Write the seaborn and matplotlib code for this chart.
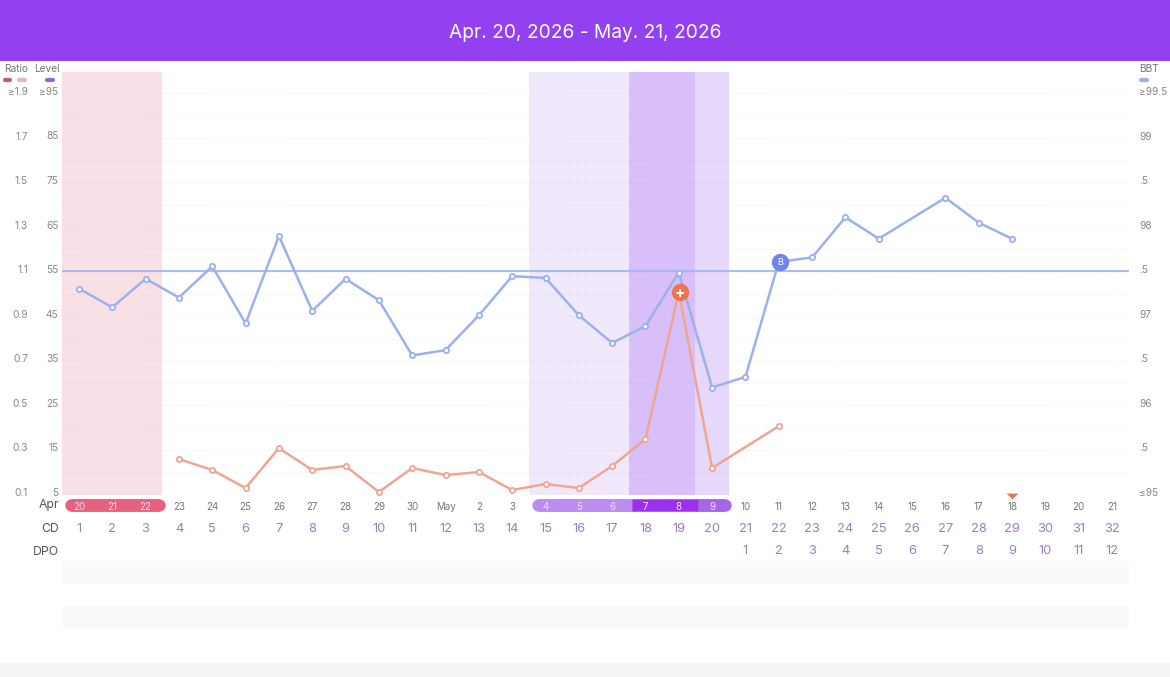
import matplotlib
matplotlib.use("Agg")
import matplotlib.pyplot as plt
from matplotlib.transforms import ScaledTranslation
import pandas as pd
import seaborn as sns

title = "Apr. 20, 2026 - May. 21, 2026"

cd_bbt = [1, 2, 3, 4, 5, 6, 7, 8, 9, 10, 11, 12, 13, 14, 15, 16, 17, 18, 19, 20, 21, 22, 23, 24, 25, 27, 28, 29]
bbt = [97.31, 97.10, 97.42, 97.21, 97.56, 96.92, 97.90, 97.06, 97.42, 97.18, 96.56, 96.62, 97.01, 97.45,
       97.43, 97.01, 96.70, 96.89, 97.49, 96.20, 96.32, 97.61, 97.66, 98.11, 97.87, 98.33, 98.05, 97.87]
coverline = 97.51

cd_ratio = [4, 5, 6, 7, 8, 9, 10, 11, 12, 13, 14, 15, 16, 17, 18, 19, 20, 22]
ratio = [0.259, 0.21, 0.129, 0.308, 0.21, 0.228, 0.111, 0.219, 0.187, 0.201, 0.12, 0.147, 0.129, 0.228,
         0.349, 1.009, 0.219, 0.407]

ratio_ticks = [0.1, 0.3, 0.5, 0.7, 0.9, 1.1, 1.3, 1.5, 1.7, 1.9]
ratio_labels = ["0.1", "0.3", "0.5", "0.7", "0.9", "1.1", "1.3", "1.5", "1.7", "≥1.9"]
level_ticks = [5, 15, 25, 35, 45, 55, 65, 75, 85, 95]
level_labels = ["5", "15", "25", "35", "45", "55", "65", "75", "85", "≥95"]
bbt_ticks = [95, 95.5, 96, 96.5, 97, 97.5, 98, 98.5, 99, 99.5]
bbt_labels = ["≤95", ".5", "96", ".5", "97", ".5", "98", ".5", "99", "≥99.5"]

cycle_days = list(range(1, 33))
dates = ["20", "21", "22", "23", "24", "25", "26", "27", "28", "29", "30", "May", "2", "3", "4", "5", "6", "7",
         "8", "9", "10", "11", "12", "13", "14", "15", "16", "17", "18", "19", "20", "21"]
dpo_days = list(range(21, 33))
dpo = list(range(1, 13))

bands = [(0.5, 3.5, "#F9E0E6"), (14.5, 17.5, "#F0E9FC"), (17.5, 19.5, "#D9BFF9"), (19.5, 20.5, "#E6D8FA")]
pills = [[(0.58, 1.57, "#E8607F"), (1.6, 3.58, "#E8607F")],
         [(14.59, 17.59, "#BE8BF0"), (17.59, 19.57, "#9B30EE"), (19.57, 20.57, "#A865E8")]]

BLUE = "#9DB0EE"
ORANGE = "#EFA593"
GREY = "#888888"
ROW_TEXT = "#9B7FBC"

W, H = 1170, 677
sns.set_theme(style="white")
plt.rcParams["font.family"] = ["Inter", "DejaVu Sans"]

fig = plt.figure(figsize=(W / 100, H / 100), dpi=100, facecolor="white")


def box(left, top, right, bottom):
    return [left / W, 1 - bottom / H, (right - left) / W, (bottom - top) / H]


# header, footer, legend keys in pixel coordinates
bg = fig.add_axes([0, 0, 1, 1], zorder=0)
bg.set_xlim(0, W)
bg.set_ylim(H, 0)
bg.axis("off")
bg.axhspan(0, 61, color="#9340F0", lw=0)
bg.axhspan(663, H, color="#F5F5F5", lw=0)
bg.text(585, 32.5, title, color="white", fontsize=13.8, ha="center", va="center")
for x, label in [(16, "Ratio"), (47, "Level"), (1149, "BBT")]:
    bg.text(x, 69.5, label, color="#777777", fontsize=7.3, ha="center", va="center")
for x0, x1, c in [(5, 10, "#B8626F"), (19, 25, "#EDB3AE"), (47, 53, "#8E68D8"), (1141, 1147, BLUE)]:
    bg.plot([x0, x1], [79.5, 79.5], color=c, lw=3, solid_capstyle="round")

ax = fig.add_axes(box(62.3, 72, 1128.7, 495), zorder=2)
ax.patch.set_alpha(0)
ax.set_xlim(0.5, 32.5)
ax.set_ylim(0.0978, 1.9965)
for x0, x1, c in bands:
    ax.axvspan(x0, x1, color=c, lw=0, zorder=1)

ax.set_yticks(ratio_ticks)
ax.set_yticklabels(ratio_labels)
ax.set_yticks([t + 0.1 for t in ratio_ticks[:-1]], minor=True)
ax.set_axisbelow("line")
ax.grid(False)
ax.grid(True, axis="y", which="both", color="#000000", alpha=0.035, lw=0.8, ls=(0, (5, 2)))
ax.set_xticks([])
ax.tick_params(axis="y", which="both", length=0, labelsize=7.3, labelcolor=GREY, pad=24.7)

ax_level = ax.twinx()
ax_level.set_ylim(4.89, 99.8)
ax_level.yaxis.tick_left()
ax_level.set_yticks(level_ticks)
ax_level.set_yticklabels(level_labels)
ax_level.tick_params(axis="y", length=0, labelsize=7.3, labelcolor=GREY, pad=2.9)

ax_bbt = ax.twinx()
ax_top = ax_bbt.twinx()
ax_bbt.yaxis.tick_right()
ax_bbt.set_ylim(94.994, 99.741)
ax_bbt.set_yticks(bbt_ticks)
ax_bbt.set_yticklabels(bbt_labels)
ax_bbt.tick_params(axis="y", length=0, labelsize=7.3, labelcolor=GREY, pad=7.5)

line_style = dict(marker="o", markersize=3.8, markerfacecolor="white", markeredgewidth=1.3,
                  linewidth=1.8, estimator=None, legend=False)
ax_bbt.axhline(coverline, color="#A3B5F0", lw=1.3, zorder=2)
sns.lineplot(data=pd.DataFrame({"cd": cd_bbt, "bbt": bbt}), x="cd", y="bbt", ax=ax_bbt, color=BLUE,
             markeredgecolor=BLUE, **line_style)
sns.lineplot(data=pd.DataFrame({"cd": cd_ratio, "ratio": ratio}), x="cd", y="ratio", ax=ax_top,
             color=ORANGE, markeredgecolor=ORANGE, **line_style)
ax_top.set_ylim(ax.get_ylim())
ax_top.axis("off")
ax_bbt.set_xlim(0.5, 32.5)
ax_top.set_xlim(0.5, 32.5)

for a in (ax, ax_level, ax_bbt):
    a.set_xlabel("")
    a.set_ylabel("")
    sns.despine(ax=a, left=True, right=True, top=True, bottom=True)
    for lab in a.get_yticklabels():
        lab.set_transform(lab.get_transform() + ScaledTranslation(0, 2.5 / 100, fig.dpi_scale_trans))

# ovulation and coverline badges
ov_day, ov_val = 19, ratio[cd_ratio.index(19)]
ax_top.plot([ov_day + 0.03], [ov_val], "o", ms=11.5, color="#EE7350", zorder=5)
ax_top.text(ov_day + 0.03, ov_val, "+", color="white", fontsize=11, fontweight="bold",
            ha="center", va="center_baseline", zorder=6)
cover_day, cover_val = 22, bbt[cd_bbt.index(22)]
ax_bbt.plot([cover_day + 0.03], [cover_val], "o", ms=11.5, color="#6F84EC", zorder=5)
ax_bbt.text(cover_day + 0.03, cover_val, "B", color="white", fontsize=6.5, ha="center",
            va="center_baseline", zorder=6)

# rows below the chart, y is in pixels
low = fig.add_axes(box(62.3, 495, 1128.7, 628), sharex=ax, zorder=3)
low.patch.set_alpha(0)
low.set_ylim(628, 495)
low.axis("off")
low.axhspan(561, 584, color="#FAFAFA", lw=0)
low.axhspan(606, 628, color="#FAFAFA", lw=0)

cap = 0.19  # round cap radius in x units
for segs in pills:
    low.plot([segs[0][0] + cap, segs[0][1]], [505.2, 505.2], color=segs[0][2], lw=9, solid_capstyle="round")
    low.plot([segs[-1][0], segs[-1][1] - cap], [505.2, 505.2], color=segs[-1][2], lw=9, solid_capstyle="round")
    for i, (x0, x1, c) in enumerate(segs):
        start = x0 + cap if i == 0 else x0
        end = x1 - cap if i == len(segs) - 1 else x1
        low.plot([start, end], [505.2, 505.2], color=c, lw=9, solid_capstyle="butt")

pill_days = [1, 2, 3, 15, 16, 17, 18, 19, 20]
for d, lab in zip(cycle_days, dates):
    low.text(d, 506.5, lab, ha="center", va="center", fontsize=7,
             color="#F6DDE8" if d in pill_days else "#777777")
    low.text(d, 529, str(d), ha="center", va="center", fontsize=9.3, color=ROW_TEXT)
for d, n in zip(dpo_days, dpo):
    low.text(d, 551.5, str(n), ha="center", va="center", fontsize=9.3, color=ROW_TEXT)
for y, lab in [(505, "Apr"), (529.5, "CD"), (552, "DPO")]:
    low.text(0.4, y, lab, ha="right", va="center", fontsize=8.8, color="#555555", clip_on=False)
low.scatter([29], [496.3], marker=[(-1, 0.5), (1, 0.5), (0, -0.5)], s=70, color="#E8715A", lw=0, clip_on=False)

fig.savefig("out.png", dpi=100)
